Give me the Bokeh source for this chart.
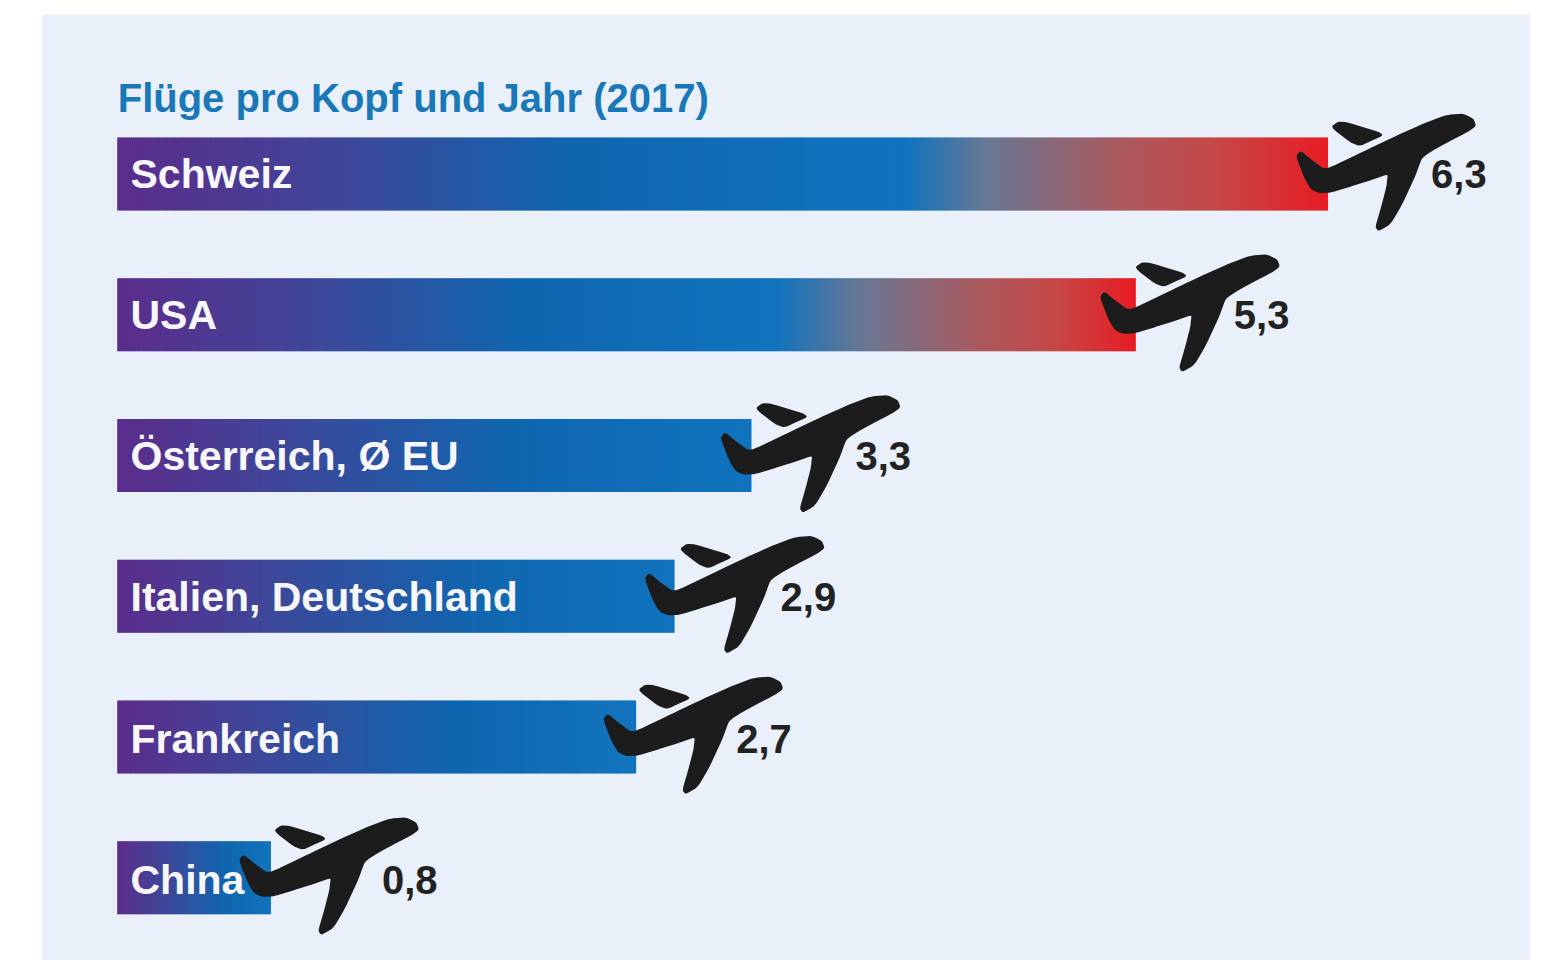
import numpy as np
from bokeh.plotting import figure
from bokeh.models import Range1d, ColumnDataSource
from bokeh.core.properties import value
from bokeh.embed import file_html
from bokeh.resources import INLINE

title_text = "Flüge pro Kopf und Jahr (2017)"
categories = ["Schweiz", "USA", "Österreich, Ø EU", "Italien, Deutschland", "Frankreich", "China"]
flights = [6.3, 5.3, 3.3, 2.9, 2.7, 0.8]
value_labels = ["6,3", "5,3", "3,3", "2,9", "2,7", "0,8"]

PX_PER_UNIT = 192.2
PX_PER_ROW = 140.75
W, H = 1534, 960
X0_PX, Y0_PX = 116.7, 173.5

PURPLE = (92, 45, 140)
BLUE1 = (15, 103, 176)
BLUE2 = (18, 116, 190)
GREY = (105, 120, 148)
ROSE = (170, 90, 95)
ROSE2 = (198, 72, 70)
RED = (232, 28, 36)
MID = (62, 72, 154)
# colour stops along each bar: px from the bar start
stops = [
    [(0, PURPLE), (230, MID), (460, BLUE1), (790, BLUE2), (870, GREY), (1000, ROSE), (1100, ROSE2), (1211, RED)],
    [(0, PURPLE), (200, MID), (410, BLUE1), (660, BLUE2), (745, GREY), (860, ROSE), (940, ROSE2), (1018, RED)],
    [(0, PURPLE), (170, MID), (400, BLUE1), (634, BLUE2)],
    [(0, PURPLE), (150, MID), (370, BLUE1), (557, BLUE2)],
    [(0, PURPLE), (140, MID), (340, BLUE1), (519, BLUE2)],
    [(0, PURPLE), (50, MID), (110, BLUE1), (153, BLUE2)],
]
plane_shift = [0, -4, 1, 2, -1, 0]
label_shift = [103, 98, 104, 106, 100, 111]
text_dy = [0, 0, 0, 1, 2, 2]

fuselage = [(50,170),(62,156),(88,178),(128,208),(150,206),(250,158),(350,110),(440,70),(500,48),(548,44),(578,58),
            (586,78),(562,95),(505,124),(445,158),(423,175),(403,230),(365,312),(330,372),(296,392),(288,382),
            (306,320),(321,262),(326,220),(270,240),(200,262),(150,277),(118,278),(95,268),(76,237)]
small_wing = [(155,82),(175,68),(202,70),(312,104),(272,122),(240,137),(213,127)]

def chaikin(pts, n=2):
    a = np.array(pts, float)
    for _ in range(n):
        b = np.roll(a, -1, axis=0)
        a = np.column_stack([0.85*a + 0.15*b, 0.15*a + 0.85*b]).reshape(-1, 2)
    return a

def outline(pts):
    return (chaikin(pts) - np.array([144, 223])) / 3.0

p = figure(width=W, height=H, output_backend="svg", toolbar_location=None,
           x_range=Range1d(-X0_PX / PX_PER_UNIT, (W - X0_PX) / PX_PER_UNIT),
           y_range=Range1d((H - Y0_PX) / PX_PER_ROW, -Y0_PX / PX_PER_ROW),
           min_border=0, border_fill_color="white", background_fill_color="white")
p.axis.visible = False
p.grid.visible = False
p.outline_line_color = None

# panel
p.quad(left=[(41.5 - X0_PX) / PX_PER_UNIT], right=[(1529.5 - X0_PX) / PX_PER_UNIT],
       top=[(14 - Y0_PX) / PX_PER_ROW], bottom=[(H - Y0_PX) / PX_PER_ROW],
       fill_color="#e9f0fa", line_color=None)

BAR_H = 73 / PX_PER_ROW
for i, (v, st) in enumerate(zip(flights, stops)):
    px = np.array([s[0] for s in st], float)
    cols = np.array([s[1] for s in st], float)
    n = int(v * PX_PER_UNIT / 2)
    edges = np.linspace(0, v, n + 1)
    mids = (edges[:-1] + edges[1:]) / 2 * PX_PER_UNIT
    rgb = np.column_stack([np.interp(mids, px, cols[:, k]) for k in range(3)]).astype(int)
    colors = ["#%02x%02x%02x" % tuple(c) for c in rgb]
    p.quad(left=edges[:-1], right=np.minimum(edges[1:] + 0.004, v), top=[i - BAR_H / 2] * n, bottom=[i + BAR_H / 2] * n,
           fill_color=colors, line_color=None)

xs, ys, wx, wy = [], [], [], []
for i, v in enumerate(flights):
    for shape, sx, sy in ((fuselage, xs, ys), (small_wing, wx, wy)):
        o = outline(shape)
        sx.append((v + (o[:, 0] + plane_shift[i]) / PX_PER_UNIT).tolist())
        sy.append((i + o[:, 1] / PX_PER_ROW).tolist())
p.patches(xs + wx, ys + wy, fill_color="#1c1c1c", line_color="#1c1c1c", line_width=1.5, line_join="round")

ty = [i + d / PX_PER_ROW for i, d in enumerate(text_dy)]
src = ColumnDataSource(dict(y=ty, x=[13.3 / PX_PER_UNIT] * 6, t=categories))
p.text("x", "y", text="t", source=src, text_font=value("Liberation Sans"), text_font_style="bold",
       text_font_size="41px", text_color="#f6f6fb", text_baseline="middle", text_align="left")

vx = [v + d / PX_PER_UNIT for v, d in zip(flights, label_shift)]
src2 = ColumnDataSource(dict(y=ty, x=vx, t=value_labels))
p.text("x", "y", text="t", source=src2, text_font=value("Liberation Sans"), text_font_style="bold",
       text_font_size="40px", text_color="#222222", text_baseline="middle", text_align="left")

p.text(x=[0.5 / PX_PER_UNIT], y=[(97 - 173.5) / PX_PER_ROW], text=[title_text], text_font=value("Liberation Sans"),
       text_font_style="bold", text_font_size="40px", text_color="#1a78b8", text_baseline="middle", text_align="left")

open("out.html", "w").write(file_html(p, INLINE))
